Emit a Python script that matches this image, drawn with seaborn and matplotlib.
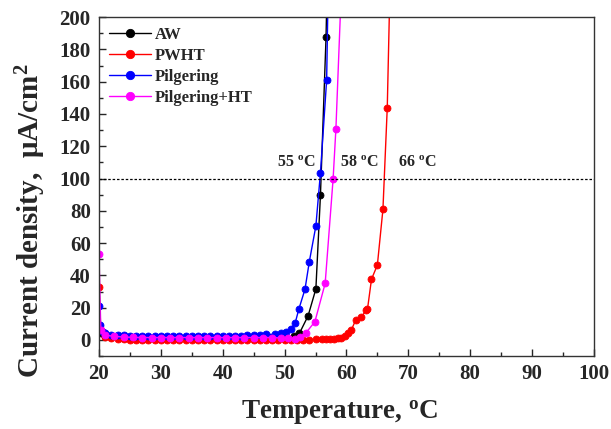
import matplotlib
matplotlib.use("Agg")
import matplotlib.pyplot as plt
import seaborn as sns
import pandas as pd
from matplotlib.ticker import MultipleLocator

# ---- data ----
aw_t = [20.0, 20.3, 21, 22, 24, 26, 28, 30, 32, 34, 36, 38, 40, 42, 44, 46, 48, 50, 51.5, 52.4, 53.8, 55.06, 55.8, 56.7, 57.1]
aw_j = [9, 4, 2.5, 2, 1.5, 1.2, 1.1, 1, 1, 1, 1, 1, 1, 1, 1, 1, 1.2, 1.5, 2.5, 4.1, 14.9, 31.6, 89.8, 187.4, 260]

pwht_t = [20.0, 20.3, 21, 22, 23, 24, 25, 26, 27, 28, 29, 30, 31, 32, 33, 34, 35, 36, 37, 38, 39, 40, 41, 42, 43, 44, 45, 46, 47, 48, 49, 50, 51, 52, 53, 54, 55, 56, 56.7, 57.4, 58, 58.6, 59.2, 59.7, 60.2, 60.8, 61.5, 62.4, 63.2, 63.4, 64.05, 65.0, 65.9, 66.6, 67.1]
pwht_j = [33, 6, 2, 1, 0.5, 0.3, 0.2, 0.2, 0.1, 0.1, 0.1, 0.1, 0.1, 0.1, 0.1, 0.1, 0.1, 0.1, 0.1, 0.1, 0.1, 0.1, 0.1, 0.1, 0.1, 0.1, 0.1, 0.1, 0.1, 0.1, 0.1, 0.1, 0.1, 0.1, 0.2, 0.2, 0.3, 0.4, 0.5, 0.6, 0.8, 1.0, 1.5, 2.2, 4.1, 6.2, 12.4, 14.0, 18.6, 19.0, 37.6, 46.4, 80.9, 144, 230]

pil_t = [20.0, 20.2, 20.6, 21, 22, 23, 24, 25, 26, 27, 28, 29, 30, 31, 32, 33, 34, 35, 36, 37, 38, 39, 40, 41, 42, 43, 44, 45, 46, 47, 48.4, 49.5, 50.3, 51.0, 51.7, 52.3, 53.3, 54.0, 55.06, 55.8, 56.8, 57.1]
pil_j = [21, 9, 5, 4, 3.2, 3, 2.8, 2.6, 2.5, 2.4, 2.3, 2.2, 2.2, 2.2, 2.2, 2.2, 2.2, 2.2, 2.2, 2.2, 2.2, 2.3, 2.3, 2.4, 2.5, 2.6, 2.8, 3.0, 3.2, 3.4, 3.5, 4.1, 4.7, 6.6, 10.3, 19, 31.4, 48.5, 70.6, 103.6, 161, 230]

pht_t = [20.0, 20.3, 21, 22.5, 24, 25.5, 27, 28.5, 30, 31.5, 33, 34.5, 36, 37.5, 39, 40.5, 42, 43.5, 45, 46.5, 48, 49.5, 50.6, 51.7, 52.5, 53.4, 54.9, 56.56, 57.85, 58.3, 59.1]
pht_j = [53, 6, 3, 2.2, 1.8, 1.6, 1.5, 1.5, 1.5, 1.5, 1.5, 1.5, 1.5, 1.5, 1.5, 1.5, 1.5, 1.5, 1.5, 1.5, 1.5, 1.2, 1.0, 0.8, 2.0, 4.1, 11.3, 35, 100, 131, 210]

labels = ["AW", "PWHT", "Pilgering", "Pilgering+HT"]
colors = ["black", "red", "blue", "magenta"]
threshold = 100
annot = [("55 $^{\\mathbf{o}}$C", 48.8), ("58 $^{\\mathbf{o}}$C", 58.9), ("66 $^{\\mathbf{o}}$C", 68.3)]

series = [(aw_t, aw_j), (pwht_t, pwht_j), (pil_t, pil_j), (pht_t, pht_j)]
frames = []
for lab, (t, j) in zip(labels, series):
    frames.append(pd.DataFrame({"T": t, "J": j, "sample": lab}))
df = pd.concat(frames, ignore_index=True)

sns.set_theme(style="ticks")
plt.rcParams["font.family"] = ["Liberation Serif", "DejaVu Serif"]
plt.rcParams["font.weight"] = "bold"
plt.rcParams["mathtext.fontset"] = "custom"
plt.rcParams["mathtext.rm"] = "Liberation Serif:bold"
plt.rcParams["mathtext.bf"] = "Liberation Serif:bold"
plt.rcParams["mathtext.it"] = "Liberation Serif:italic:bold"

fig = plt.figure(figsize=(6.11, 4.29), dpi=100)
ax = fig.add_axes([0.162, 0.170, 0.810, 0.790])

sns.lineplot(data=df, x="T", y="J", hue="sample", hue_order=labels,
             palette=dict(zip(labels, colors)), estimator=None, sort=False,
             marker="o", markersize=5, markeredgewidth=0.6, linewidth=1.0,
             ax=ax, legend=True)
for ln, c in zip(ax.lines, colors):
    ln.set_markeredgecolor(c)

ax.axhline(threshold, color="black", linestyle=(0, (2, 1.5)), linewidth=0.9)

for txt, x in annot:
    ax.text(x, 104.5, txt, fontsize=11.5, fontweight="bold", ha="left", va="bottom")

ax.set_xlim(20, 100)
ax.set_ylim(-10, 200)
ax.xaxis.set_major_locator(MultipleLocator(10))
ax.xaxis.set_minor_locator(MultipleLocator(5))
ax.yaxis.set_major_locator(MultipleLocator(20))
ax.yaxis.set_minor_locator(MultipleLocator(10))
ax.tick_params(which="both", direction="in", top=False, right=False)
ax.tick_params(which="major", length=5, width=1, labelsize=15, pad=6)
ax.tick_params(which="minor", length=3, width=1)
for lbl in ax.get_xticklabels() + ax.get_yticklabels():
    lbl.set_fontweight("bold")
for s in ax.spines.values():
    s.set_linewidth(1.0)
    s.set_color("#333333")

ax.set_xlabel("Temperature, $^{\\mathbf{o}}$C", fontsize=19.5, fontweight="bold")
ax.set_ylabel("Current density,  \u03bcA/cm$^{\\mathbf{2}}$", fontsize=21, fontweight="bold")
ax.xaxis.set_label_coords(0.487, -0.125)
ax.yaxis.set_label_coords(-0.104, 0.40)

leg = ax.legend(loc="upper left", frameon=False, handlelength=2.5,
                labelspacing=0.3, borderaxespad=0.2, handletextpad=0.25,
                borderpad=0.4, prop={"weight": "bold", "size": 12})
for h, c in zip(leg.get_lines(), colors):
    h.set_color(c)
    h.set_marker("o")
    h.set_markersize(6)
    h.set_markeredgecolor(c)
    h.set_markerfacecolor(c)

fig.savefig("out.png", dpi=100)
